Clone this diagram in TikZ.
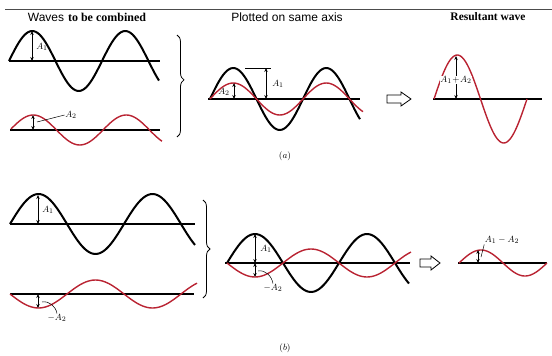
\documentclass[tikz,border=0pt]{standalone}
\usepackage{fontspec}
\usetikzlibrary{arrows.meta,decorations.pathreplacing}
\newfontfamily\headsans{Liberation Sans}
\newfontfamily\headserif{Liberation Serif}
\definecolor{wavered}{RGB}{185,35,50}
\tikzset{
  axis/.style={line width=1.3pt},
  blackwave/.style={line width=2pt, smooth, samples=80},
  redwave/.style={wavered, line width=1.4pt, smooth, samples=80},
  amp/.style={<->, >={Stealth[length=4pt,width=3.4pt]}, line width=0.7pt},
  lbl/.style={font=\fontsize{9.5}{10}\selectfont, inner sep=0.5pt},
  capt/.style={font=\fontsize{9}{10}\selectfont, inner sep=0.5pt},
  head/.style={font=\fontsize{12}{13}\selectfont, inner sep=0pt},
  hollow/.style={line width=0.8pt, fill=white}
}
\begin{document}
\begin{tikzpicture}[x=1pt, y=-1pt]
  \useasboundingbox (0,0) rectangle (552,356);
  \draw[gray!60!black, line width=0.8pt] (5,9) -- (552,9);
  % titles
  \node[head] (ttlwaves) at (87,17) {{\headsans Waves} {\headserif\bfseries to be combined}};
  \node[head] (ttlsame) at (287,17) {\headsans Plotted on same axis};
  \node[head, font=\fontsize{11.5}{12}\selectfont] (ttlres) at (488,17) {\headserif\bfseries Resultant wave};

  % ---- (a) waves to be combined
  \draw[axis] (9,61) -- (160,61);
  \draw[blackwave] plot[domain=9:159] (\x, {61-30*sin((\x-9)/46.5*180)});
  \draw[amp] (32,31) -- (32,61);
  \node[lbl] (la1) at (42,47) {$A_1$};
  \draw[axis] (10,130) -- (160,130);
  \draw[redwave] plot[domain=11:162] (\x, {130-15*sin((\x-10)/46.5*180)});
  \draw[amp] (33,115) -- (33,130);
  \node[lbl] (la2) at (71,115) {$A_2$};
  \draw[line width=0.5pt] (37,122) -- (la2.west);
  \draw[decorate, decoration={brace, amplitude=7pt, aspect=0.44}, line width=0.8pt] (177,35) -- (177,137);

  % ---- (a) same axis
  \draw[axis] (208,99) -- (360,99);
  \draw[blackwave] plot[domain=210:360] (\x, {99-31*sin((\x-210)/46.5*180)});
  \draw[redwave] plot[domain=210:363] (\x, {99-16*sin((\x-210)/46.5*180)});
  \draw[line width=0.8pt] (245,68) -- (271,68);
  \draw[amp] (266,68) -- (266,99);
  \node[lbl] (sa1) at (278,84) {$A_1$};
  \draw[amp] (234,83) -- (234,99);
  \node[lbl] (sa2) at (224,92) {$A_2$};
  \node[capt] (capa) at (285,156) {$(a)$};
  \draw[hollow] (387,95) -- (401,95) -- (401,92) -- (411,99) -- (401,106) -- (401,103) -- (387,103) -- cycle;

  % ---- (a) resultant
  \draw[axis] (433,99) -- (542,99);
  \draw[redwave] plot[domain=434:527] (\x, {99-44*sin((\x-434)/46.5*180)});
  \draw[amp] (456,56) -- (456,99);
  \node[lbl, fill=white, inner sep=0pt] (ra12) at (456,80) {$A_1\!+\!A_2$};

  % ---- (b) waves to be combined
  \draw[axis] (10,224) -- (195,224);
  \draw[blackwave] plot[domain=10:195] (\x, {224-30*sin((\x-10)/57*180)});
  \draw[amp] (38,195) -- (38,224);
  \node[lbl] (lb1) at (48,210) {$A_1$};
  \draw[axis] (10,294) -- (194,294);
  \draw[redwave] plot[domain=10:197] (\x, {294+14*sin((\x-10)/57*180)});
  \draw[amp] (38,294) -- (38,308);
  \node[lbl] (lb2) at (57,318) {$-A_2$};
  \draw[line width=0.5pt] (42,302) to[out=10, in=100] (lb2.north);
  \draw[decorate, decoration={brace, amplitude=7pt}, line width=0.8pt] (203,200) -- (203,298);

  % ---- (b) same axis
  \draw[axis] (225,263) -- (410,263);
  \draw[blackwave] plot[domain=227:409] (\x, {263-29*sin((\x-227)/56*180)});
  \draw[redwave] plot[domain=227:411] (\x, {263+14*sin((\x-227)/56*180)});
  \draw[amp] (255,234) -- (255,263);
  \draw[amp] (255,263) -- (255,277);
  \node[lbl] (sb1) at (266,249) {$A_1$};
  \node[lbl] (sb2) at (273,288) {$-A_2$};
  \draw[line width=0.5pt] (258,271) to[out=10, in=100] (sb2.north);
  \node[capt] (capb) at (285,348) {$(b)$};
  \draw[hollow] (420,259) -- (431,259) -- (431,256) -- (440,263) -- (431,270) -- (431,267) -- (420,267) -- cycle;

  % ---- (b) resultant
  \draw[axis] (458,263) -- (547,263);
  \draw[redwave] plot[domain=459:547] (\x, {263-13*sin((\x-459)/44*180)});
  \draw[amp] (478,250) -- (478,263);
  \node[lbl] (rb12) at (502,240) {$A_1-A_2$};
  \draw[line width=0.5pt] (481,257) -- (rb12.south west);
\end{tikzpicture}
\end{document}
